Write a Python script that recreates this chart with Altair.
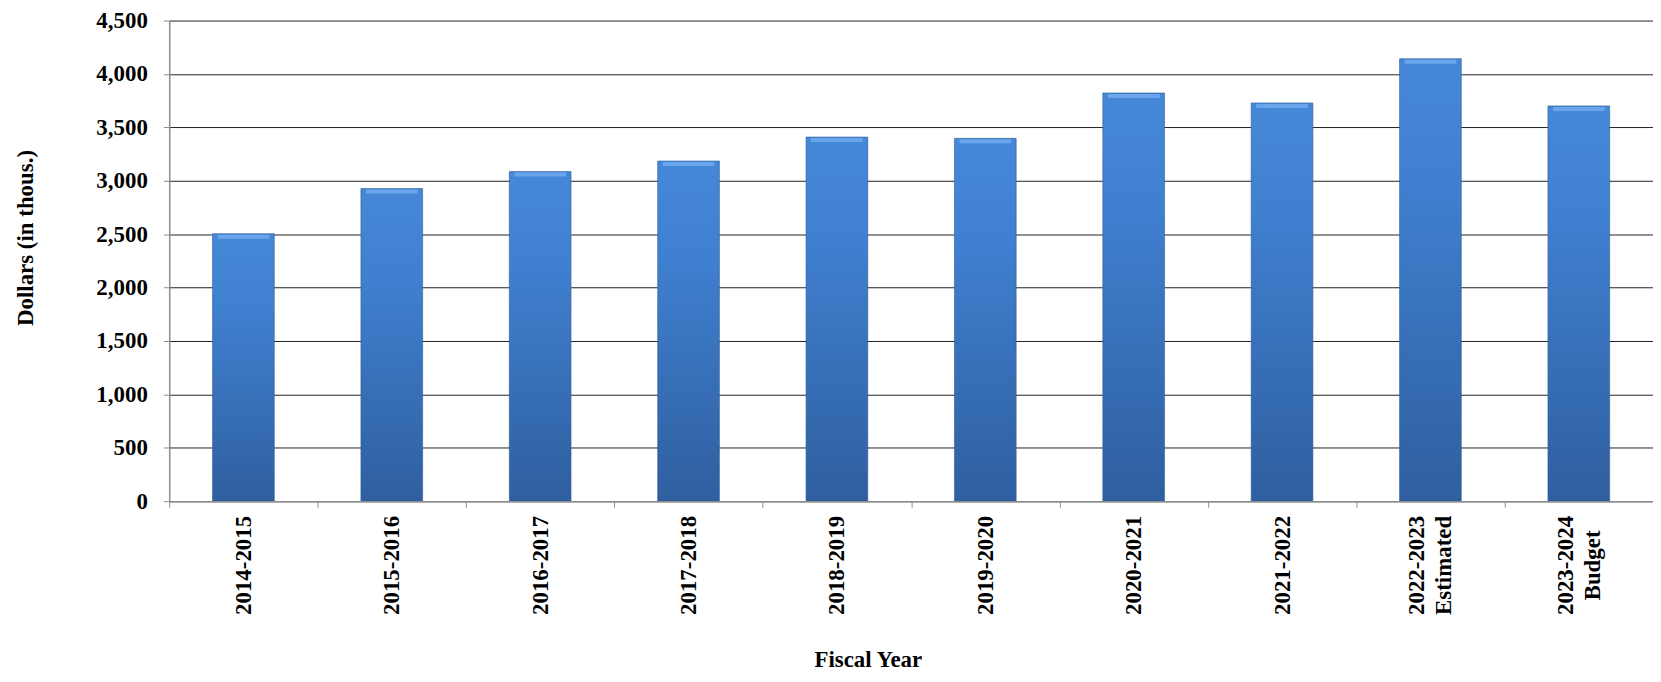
import altair as alt
import pandas as pd

categories = ["2014-2015", "2015-2016", "2016-2017", "2017-2018", "2018-2019",
              "2019-2020", "2020-2021", "2021-2022", "2022-2023 Estimated", "2023-2024 Budget"]
values = [2505, 2927, 3086, 3185, 3409, 3397, 3822, 3729, 4143, 3701]
y_ticks = [0, 500, 1000, 1500, 2000, 2500, 3000, 3500, 4000, 4500]

df = pd.DataFrame({"year": categories, "dollars": values})

FONT = "Liberation Serif"
FS = 23

x_enc = alt.X(
    "year:N",
    sort=categories,
    scale=alt.Scale(paddingInner=0, paddingOuter=0),
    axis=alt.Axis(
        title="Fiscal Year",
        titleFont=FONT, titleFontSize=FS, titleFontWeight="bold", titleColor="black",
        titleX=702, titleY=159, titleBaseline="middle", titleAnchor="start", titleAlign="center",
        labelFont=FONT, labelFontSize=FS, labelFontWeight="bold", labelColor="black",
        labelAngle=270, labelAlign="center", labelBaseline="middle",
        labelPadding=58, labelLineHeight=27,
        labelExpr="split(datum.label, ' ')",
        labelOffset={"condition": {"test": "indexof(datum.label, ' ') > 0", "value": -13.5}, "value": 0},
        tickBand="extent", tickSize=6, tickColor="#8c8c8c",
        domainColor="#8c8c8c", domainWidth=1.5,
        grid=False, zindex=1,
    ),
)

y_enc = alt.Y(
    "dollars:Q",
    scale=alt.Scale(domain=[0, 4500], nice=False),
    axis=alt.Axis(
        values=y_ticks, format=",.0f",
        title="Dollars (in thous.)",
        titleFont=FONT, titleFontSize=FS, titleFontWeight="bold", titleColor="black",
        titleAngle=270, titleX=-144, titleY=218, titleBaseline="middle", titleAlign="center",
        titleAnchor="start",
        labelFont=FONT, labelFontSize=FS, labelFontWeight="bold", labelColor="black",
        labelPadding=16, tickSize=6, tickColor="#8c8c8c",
        domainColor="#8c8c8c", domainWidth=1.5,
        grid=True, gridColor="#222222", gridWidth=1,
    ),
)

bars = alt.Chart(df).mark_bar(
    width=alt.RelativeBandSize(0.416),
    color=alt.Gradient(
        gradient="linear",
        stops=[
            alt.GradientStop(color="#4688d8", offset=0),
            alt.GradientStop(color="#3f7fcf", offset=0.3),
            alt.GradientStop(color="#2f5f9f", offset=1),
        ],
        x1=0, x2=0, y1=0, y2=1,
    ),
    stroke="#2d5b95",
    strokeWidth=0.6,
).encode(x=x_enc, y=y_enc)

bevel = alt.Chart(df).mark_tick(
    thickness=4, size=52, color="#6ea8ee", opacity=0.9, yOffset=3,
).encode(
    x=alt.X("year:N", sort=categories),
    y=alt.Y("dollars:Q"),
)

chart = alt.layer(bars, bevel).properties(
    width=1491,
    height=483,
    padding={"left": 162, "top": 11, "right": 0, "bottom": 172},
    autosize=alt.AutoSizeParams(type="none"),
    background="white",
).configure_view(stroke=None)

chart.save("out.html", embed_options={"renderer": "svg", "actions": False})
